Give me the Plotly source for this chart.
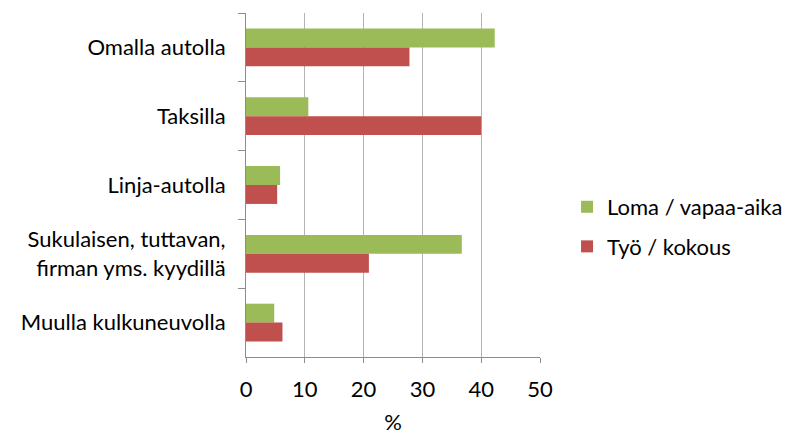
import plotly.graph_objects as go

categories = [
    "Omalla autolla",
    "Taksilla",
    "Linja-autolla",
    "Sukulaisen, tuttavan,<br>firman yms. kyydillä",
    "Muulla kulkuneuvolla",
]
loma_vapaa_aika = [42.3, 10.6, 5.8, 36.7, 4.8]
tyo_kokous = [27.8, 40.0, 5.3, 20.9, 6.2]
x_ticks = [0, 10, 20, 30, 40, 50]

font_family = "Lato, Open Sans, sans-serif"
label_size = 22

fig = go.Figure()
fig.add_trace(go.Bar(
    y=categories, x=loma_vapaa_aika, orientation="h",
    name="Loma / vapaa-aika", legendgroup="loma",
    marker=dict(color="#9BBB59", line=dict(width=0)),
))
fig.add_trace(go.Bar(
    y=categories, x=tyo_kokous, orientation="h",
    name="Työ / kokous", legendgroup="tyo",
    marker=dict(color="#C0504D", line=dict(width=0)),
))

fig.update_layout(
    width=789, height=435,
    margin=dict(l=246, r=249, t=13, b=78, autoexpand=False),
    paper_bgcolor="white", plot_bgcolor="white",
    barmode="group", bargap=0.45, bargroupgap=0,
    font=dict(family=font_family, size=label_size, color="#000000"),
    legend=dict(
        x=1.092, y=0.378, xanchor="left", yanchor="middle",
        font=dict(size=label_size), traceorder="grouped", tracegroupgap=8,
        itemwidth=30,
    ),
    xaxis=dict(
        range=[0, 50], tickvals=x_ticks, ticktext=[str(v) for v in x_ticks],
        showgrid=True, gridcolor="#b3b3b3", gridwidth=1,
        showline=True, linecolor="#8c8c8c", linewidth=1,
        ticks="outside", ticklen=5, tickcolor="#8c8c8c", automargin=False,
        zeroline=False, tickfont=dict(size=label_size), ticklabelstandoff=8,
        title=dict(text="%", font=dict(size=label_size), standoff=16),
    ),
    yaxis=dict(
        autorange="reversed", showline=True, linecolor="#8c8c8c", linewidth=1,
        ticks="outside", ticklen=7, tickcolor="#8c8c8c", tickson="boundaries",
        showgrid=False, tickfont=dict(size=label_size), ticklabelstandoff=15,
        automargin=False,
    ),
)

fig.write_html("out.html")
